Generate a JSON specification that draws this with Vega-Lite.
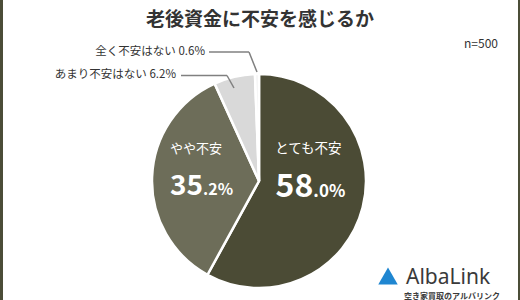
{
  "$schema": "https://vega.github.io/schema/vega-lite/v6.json",
  "width": 520,
  "height": 300,
  "autosize": "none",
  "padding": 0,
  "background": "white",
  "config": {"view": {"stroke": null}, "font": "Noto Sans CJK JP", "text": {"font": "Noto Sans CJK JP"}},
  "datasets": {
    "pie": [
      {"answer": "とても不安", "pct": 58.0, "big": "58", "small": ".0%", "order": 1},
      {"answer": "やや不安", "pct": 35.2, "big": "35", "small": ".2%", "order": 2},
      {"answer": "あまり不安はない", "pct": 6.2, "big": "6", "small": ".2%", "order": 3},
      {"answer": "全く不安はない", "pct": 0.6, "big": "0", "small": ".6%", "order": 4}
    ]
  },
  "layer": [
    {
      "data": {"name": "pie"},
      "mark": {"type": "arc", "outerRadius": 107, "stroke": "white", "strokeWidth": 2.5},
      "encoding": {
        "theta": {"field": "pct", "type": "quantitative", "stack": true},
        "order": {"field": "order", "type": "quantitative"},
        "color": {"field": "answer", "type": "nominal", "legend": null,
          "scale": {"domain": ["とても不安", "やや不安", "あまり不安はない", "全く不安はない"], "range": ["#4b4b35", "#6d6d59", "#d9d9d9", "#f3f3f3"]}},
        "x": {"datum": 259, "type": "quantitative", "scale": {"domain": [0, 520], "nice": false, "zero": false}, "axis": null},
        "y": {"datum": 181, "type": "quantitative", "scale": {"domain": [0, 300], "nice": false, "zero": false, "reverse": true}, "axis": null}
      }
    },
    {
      "data": {"name": "pie"},
      "transform": [{"filter": "datum.order == 1"}],
      "layer": [
        {"mark": {"type": "text", "fontSize": 13.5, "color": "white", "baseline": "middle", "align": "center", "dx": -1, "dy": -45}, "encoding": {"text": {"field": "answer"}}},
        {"mark": {"type": "text", "fontSize": 32, "fontWeight": "bold", "color": "white", "baseline": "alphabetic", "align": "right", "dx": 4, "dy": 3}, "encoding": {"text": {"field": "big"}}},
        {"mark": {"type": "text", "fontSize": 17, "fontWeight": "bold", "color": "white", "baseline": "alphabetic", "align": "left", "dx": 4, "dy": 3}, "encoding": {"text": {"field": "small"}}}
      ],
      "encoding": {
        "theta": {"datum": 29, "type": "quantitative", "scale": {"domain": [0, 100]}},
        "radius": {"value": 52},
        "x": {"datum": 259, "type": "quantitative"},
        "y": {"datum": 181, "type": "quantitative"}
      }
    },
    {
      "data": {"name": "pie"},
      "transform": [{"filter": "datum.order == 2"}],
      "layer": [
        {"mark": {"type": "text", "fontSize": 13, "color": "white", "baseline": "middle", "align": "center", "dx": -1, "dy": -30}, "encoding": {"text": {"field": "answer"}}},
        {"mark": {"type": "text", "fontSize": 28, "fontWeight": "bold", "color": "white", "baseline": "alphabetic", "align": "right", "dx": 6, "dy": 16}, "encoding": {"text": {"field": "big"}}},
        {"mark": {"type": "text", "fontSize": 16, "fontWeight": "bold", "color": "white", "baseline": "alphabetic", "align": "left", "dx": 6, "dy": 16}, "encoding": {"text": {"field": "small"}}}
      ],
      "encoding": {
        "theta": {"datum": 75.6, "type": "quantitative", "scale": {"domain": [0, 100]}},
        "radius": {"value": 62},
        "x": {"datum": 259, "type": "quantitative"},
        "y": {"datum": 181, "type": "quantitative"}
      }
    },
    {
      "data": {"values": [{"t": "老後資金に不安を感じるか"}]},
      "mark": {"type": "text", "fontSize": 19, "fontWeight": "bold", "color": "#333333", "align": "center", "baseline": "middle"},
      "encoding": {"text": {"field": "t"}, "x": {"datum": 260, "type": "quantitative"}, "y": {"datum": 20, "type": "quantitative"}}
    },
    {
      "data": {"values": [{"t": "全く不安はない 0.6%"}]},
      "mark": {"type": "text", "fontSize": 11.5, "color": "#333333", "align": "right", "baseline": "middle"},
      "encoding": {"text": {"field": "t"}, "x": {"datum": 205, "type": "quantitative"}, "y": {"datum": 52, "type": "quantitative"}}
    },
    {
      "data": {"values": [{"t": "あまり不安はない 6.2%"}]},
      "mark": {"type": "text", "fontSize": 11.5, "color": "#333333", "align": "right", "baseline": "middle"},
      "encoding": {"text": {"field": "t"}, "x": {"datum": 176, "type": "quantitative"}, "y": {"datum": 75, "type": "quantitative"}}
    },
    {
      "data": {"values": [{"t": "n=500"}]},
      "mark": {"type": "text", "fontSize": 12, "color": "#333333", "align": "right", "baseline": "middle"},
      "encoding": {"text": {"field": "t"}, "x": {"datum": 498, "type": "quantitative"}, "y": {"datum": 44, "type": "quantitative"}}
    },
    {
      "data": {"values": [{}]},
      "mark": {"type": "rule", "color": "#808080", "strokeWidth": 1.5},
      "encoding": {"x": {"datum": 209, "type": "quantitative"}, "x2": {"datum": 249}, "y": {"datum": 52, "type": "quantitative"}, "y2": {"datum": 52}}
    },
    {
      "data": {"values": [{}]},
      "mark": {"type": "rule", "color": "#808080", "strokeWidth": 1.5},
      "encoding": {"x": {"datum": 249, "type": "quantitative"}, "x2": {"datum": 257}, "y": {"datum": 52, "type": "quantitative"}, "y2": {"datum": 72}}
    },
    {
      "data": {"values": [{}]},
      "mark": {"type": "rule", "color": "#808080", "strokeWidth": 1.5},
      "encoding": {"x": {"datum": 181, "type": "quantitative"}, "x2": {"datum": 227}, "y": {"datum": 75.5, "type": "quantitative"}, "y2": {"datum": 75.5}}
    },
    {
      "data": {"values": [{}]},
      "mark": {"type": "rule", "color": "#808080", "strokeWidth": 1.5},
      "encoding": {"x": {"datum": 227, "type": "quantitative"}, "x2": {"datum": 234}, "y": {"datum": 75.5, "type": "quantitative"}, "y2": {"datum": 88}}
    },
    {
      "data": {"values": [{}]},
      "mark": {"type": "rule", "color": "#4b4d38", "strokeWidth": 3},
      "encoding": {"x": {"datum": 1.5, "type": "quantitative"}, "y": {"datum": 0, "type": "quantitative"}, "y2": {"datum": 300}}
    },
    {
      "data": {"values": [{}]},
      "mark": {"type": "rule", "color": "#4b4d38", "strokeWidth": 2},
      "encoding": {"x": {"datum": 519, "type": "quantitative"}, "y": {"datum": 0, "type": "quantitative"}, "y2": {"datum": 300}}
    },
    {
      "data": {"values": [{}]},
      "mark": {"type": "point", "shape": "triangle-up", "filled": true, "color": "#1f86d1", "size": 380, "opacity": 1},
      "encoding": {"x": {"datum": 388, "type": "quantitative"}, "y": {"datum": 276, "type": "quantitative"}}
    },
    {
      "data": {"values": [{"t": "AlbaLink"}]},
      "mark": {"type": "text", "fontSize": 21, "color": "#3a3a3a", "align": "left", "baseline": "alphabetic", "font": "Noto Sans"},
      "encoding": {"text": {"field": "t"}, "x": {"datum": 406, "type": "quantitative"}, "y": {"datum": 284, "type": "quantitative"}}
    },
    {
      "data": {"values": [{"t": "空き家買取のアルバリンク"}]},
      "mark": {"type": "text", "fontSize": 8, "fontWeight": "bold", "color": "#3a3a3a", "align": "left", "baseline": "top"},
      "encoding": {"text": {"field": "t"}, "x": {"datum": 404, "type": "quantitative"}, "y": {"datum": 293, "type": "quantitative"}}
    }
  ]
}
